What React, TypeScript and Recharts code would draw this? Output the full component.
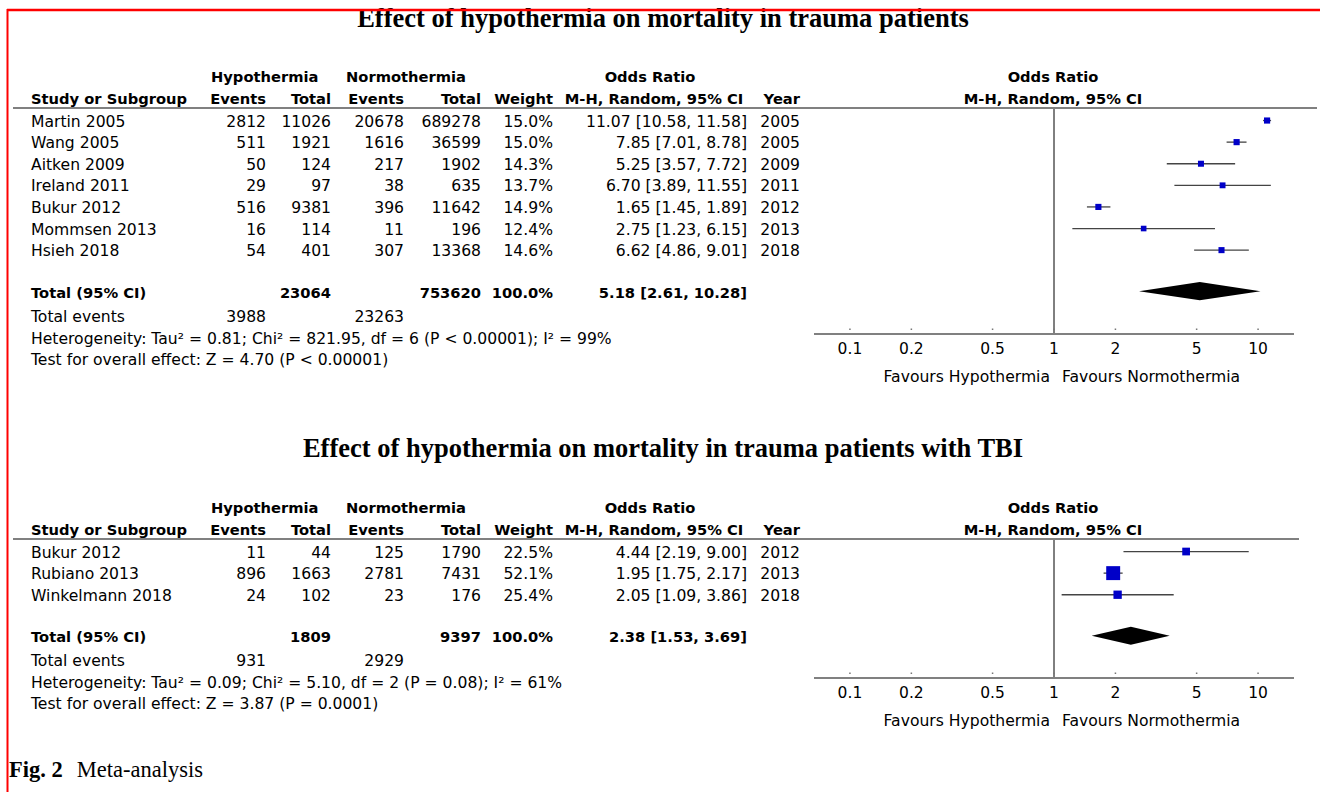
import React from 'react'
import { ComposedChart, XAxis, YAxis, Scatter, ErrorBar, Area, ReferenceLine } from 'recharts'

// ---- top meta-analysis: all trauma patients ----
const studiesAll = ['Martin 2005', 'Wang 2005', 'Aitken 2009', 'Ireland 2011', 'Bukur 2012', 'Mommsen 2013', 'Hsieh 2018']
const hypoEventsAll = [2812, 511, 50, 29, 516, 16, 54]
const hypoTotalAll = [11026, 1921, 124, 97, 9381, 114, 401]
const normoEventsAll = [20678, 1616, 217, 38, 396, 11, 307]
const normoTotalAll = [689278, 36599, 1902, 635, 11642, 196, 13368]
const weightsAll = [15.0, 15.0, 14.3, 13.7, 14.9, 12.4, 14.6]
const oddsAll = [11.07, 7.85, 5.25, 6.7, 1.65, 2.75, 6.62]
const lowerAll = [10.58, 7.01, 3.57, 3.89, 1.45, 1.23, 4.86]
const upperAll = [11.58, 8.78, 7.72, 11.55, 1.89, 6.15, 9.01]
const yearsAll = [2005, 2005, 2009, 2011, 2012, 2013, 2018]
const totalAll = { hypoTotal: 23064, normoTotal: 753620, hypoEvents: 3988, normoEvents: 23263, or: 5.18, lo: 2.61, hi: 10.28 }
const hetAll = 'Heterogeneity: Tau² = 0.81; Chi² = 821.95, df = 6 (P < 0.00001); I² = 99%'
const testAll = 'Test for overall effect: Z = 4.70 (P < 0.00001)'

// ---- bottom meta-analysis: TBI patients ----
const studiesTbi = ['Bukur 2012', 'Rubiano 2013', 'Winkelmann 2018']
const hypoEventsTbi = [11, 896, 24]
const hypoTotalTbi = [44, 1663, 102]
const normoEventsTbi = [125, 2781, 23]
const normoTotalTbi = [1790, 7431, 176]
const weightsTbi = [22.5, 52.1, 25.4]
const oddsTbi = [4.44, 1.95, 2.05]
const lowerTbi = [2.19, 1.75, 1.09]
const upperTbi = [9.0, 2.17, 3.86]
const yearsTbi = [2012, 2013, 2018]
const totalTbi = { hypoTotal: 1809, normoTotal: 9397, hypoEvents: 931, normoEvents: 2929, or: 2.38, lo: 1.53, hi: 3.69 }
const hetTbi = 'Heterogeneity: Tau² = 0.09; Chi² = 5.10, df = 2 (P = 0.08); I² = 61%'
const testTbi = 'Test for overall effect: Z = 3.87 (P = 0.0001)'

const xTicks = [0.1, 0.2, 0.5, 1, 2, 5, 10]

const SANS = "'DejaVu Sans', Verdana, sans-serif"
const SERIF = "'Liberation Serif', 'Times New Roman', serif"
const ROW_PX = 21.6
const ROW_PAD = 0.58
const DIAMOND_HALF = 0.42

type Section = {
  studies: string[]
  hypoEvents: number[]
  hypoTotal: number[]
  normoEvents: number[]
  normoTotal: number[]
  weights: number[]
  odds: number[]
  lower: number[]
  upper: number[]
  years: number[]
  total: typeof totalAll
  het: string
  test: string
}

const sectionAll: Section = {
  studies: studiesAll, hypoEvents: hypoEventsAll, hypoTotal: hypoTotalAll, normoEvents: normoEventsAll,
  normoTotal: normoTotalAll, weights: weightsAll, odds: oddsAll, lower: lowerAll, upper: upperAll,
  years: yearsAll, total: totalAll, het: hetAll, test: testAll,
}
const sectionTbi: Section = {
  studies: studiesTbi, hypoEvents: hypoEventsTbi, hypoTotal: hypoTotalTbi, normoEvents: normoEventsTbi,
  normoTotal: normoTotalTbi, weights: weightsTbi, odds: oddsTbi, lower: lowerTbi, upper: upperTbi,
  years: yearsTbi, total: totalTbi, het: hetTbi, test: testTbi,
}

const ci = (o: number, l: number, h: number) => `${o.toFixed(2)} [${l.toFixed(2)}, ${h.toFixed(2)}]`

const Txt = ({ x, y, anchor = 'start', bold = false, children }: any) => (
  <text x={x} y={y + 1} textAnchor={anchor} dominantBaseline='central' fontFamily={SANS} fontSize={bold ? 14.7 : 15.6}
    fontWeight={bold ? 'bold' : 'normal'} fill='#000'>
    {children}
  </text>
)

const Square = (p: any) => {
  const sz = 3 + 0.21 * p.payload.w
  return <rect x={p.cx - sz / 2} y={p.cy - sz / 2} width={sz} height={sz} fill='#0000c8' />
}

const XTick = (p: any) => (
  <g>
    <rect x={p.x - 0.75} y={p.y - 5.5} width={1.5} height={1.5} fill='#777' />
    <text x={p.x} y={p.y + 14.5} textAnchor='middle' dominantBaseline='central' fontFamily={SANS} fontSize={15.5} fill='#000'>
      {p.payload.value}
    </text>
  </g>
)

const ForestPlot = ({ s, top, height, headerY, axisY }: { s: Section; top: number; height: number; headerY: number; axisY: number }) => {
  const totalRow = s.studies.length + 0.9
  const points = s.studies.map((_, i) => ({
    row: i,
    or: s.odds[i],
    err: [s.odds[i] - s.lower[i], s.upper[i] - s.odds[i]],
    w: s.weights[i],
  }))
  const diamond = [
    { or: s.total.lo, band: [totalRow, totalRow] },
    { or: s.total.or, band: [totalRow - DIAMOND_HALF, totalRow + DIAMOND_HALF] },
    { or: s.total.hi, band: [totalRow, totalRow] },
  ]
  const rowTicks = [...s.studies.map((_, i) => i), totalRow]
  const yMax = (axisY - headerY) / ROW_PX - ROW_PAD

  const RowTick = (p: any) => {
    const v = p.payload.value
    const y = p.y
    if (v === totalRow) {
      return (
        <g>
          <Txt x={31} y={y} bold>Total (95% CI)</Txt>
          <Txt x={331} y={y} anchor='end' bold>{s.total.hypoTotal}</Txt>
          <Txt x={481} y={y} anchor='end' bold>{s.total.normoTotal}</Txt>
          <Txt x={553} y={y} anchor='end' bold>100.0%</Txt>
          <Txt x={747} y={y} anchor='end' bold>{ci(s.total.or, s.total.lo, s.total.hi)}</Txt>
        </g>
      )
    }
    const i = Math.round(v)
    return (
      <g>
        <Txt x={31} y={y}>{s.studies[i]}</Txt>
        <Txt x={266} y={y} anchor='end'>{s.hypoEvents[i]}</Txt>
        <Txt x={331} y={y} anchor='end'>{s.hypoTotal[i]}</Txt>
        <Txt x={404} y={y} anchor='end'>{s.normoEvents[i]}</Txt>
        <Txt x={481} y={y} anchor='end'>{s.normoTotal[i]}</Txt>
        <Txt x={553} y={y} anchor='end'>{s.weights[i].toFixed(1)}%</Txt>
        <Txt x={747} y={y} anchor='end'>{ci(s.odds[i], s.lower[i], s.upper[i])}</Txt>
        <Txt x={800} y={y} anchor='end'>{s.years[i]}</Txt>
      </g>
    )
  }

  return (
    <div style={{ position: 'absolute', left: 0, top, width: 1320, height }}>
      <ComposedChart width={1320} height={height} margin={{ top: headerY - top, right: 26, bottom: 0, left: 0 }}>
        <XAxis
          type='number'
          dataKey='or'
          scale='log'
          domain={[1 / 15, 15]}
          allowDataOverflow
          ticks={xTicks}
          interval={0}
          tickSize={0}
          tickMargin={0}
          height={top + height - axisY}
          axisLine={{ stroke: '#808080', strokeWidth: 2 }}
          tickLine={false}
          tick={<XTick />}
        />
        <YAxis
          type='number'
          dataKey='row'
          domain={[-ROW_PAD, yMax]}
          reversed
          allowDataOverflow
          ticks={rowTicks}
          interval={0}
          width={814}
          axisLine={false}
          tickLine={false}
          tick={<RowTick />}
        />
        <ReferenceLine x={1} stroke='#000' strokeWidth={1} />
        <Area
          data={diamond}
          dataKey='band'
          type='linear'
          fill='#000'
          fillOpacity={1}
          stroke='none'
          dot={false}
          activeDot={false}
          isAnimationActive={false}
        />
        <Scatter data={points} shape={<Square />} isAnimationActive={false}>
          <ErrorBar dataKey='err' direction='x' width={0} stroke='#444' strokeWidth={1.3} />
        </Scatter>
      </ComposedChart>
    </div>
  )
}

const SectionText = ({ s, title, titleY, headerY, axisY, lineEnd }: { s: Section; title: string; titleY: number; headerY: number; axisY: number; lineEnd: number }) => {
  const h1 = headerY - 32.5
  const h2 = headerY - 10.5
  return (
    <g>
      <text x={663} y={titleY} textAnchor='middle' fontFamily={SERIF} fontSize={26.5} fontWeight='bold' fill='#000'>
        {title}
      </text>
      <Txt x={211} y={h1} bold>Hypothermia</Txt>
      <Txt x={346} y={h1} bold>Normothermia</Txt>
      <Txt x={650} y={h1} anchor='middle' bold>Odds Ratio</Txt>
      <Txt x={1053} y={h1} anchor='middle' bold>Odds Ratio</Txt>
      <Txt x={31} y={h2} bold>Study or Subgroup</Txt>
      <Txt x={266} y={h2} anchor='end' bold>Events</Txt>
      <Txt x={331} y={h2} anchor='end' bold>Total</Txt>
      <Txt x={404} y={h2} anchor='end' bold>Events</Txt>
      <Txt x={481} y={h2} anchor='end' bold>Total</Txt>
      <Txt x={553} y={h2} anchor='end' bold>Weight</Txt>
      <Txt x={654} y={h2} anchor='middle' bold>M-H, Random, 95% CI</Txt>
      <Txt x={800} y={h2} anchor='end' bold>Year</Txt>
      <Txt x={1053} y={h2} anchor='middle' bold>M-H, Random, 95% CI</Txt>
      <line x1={13} x2={lineEnd} y1={headerY} y2={headerY} stroke='#808080' strokeWidth={2} />
      <Txt x={31} y={axisY - 18}>Total events</Txt>
      <Txt x={266} y={axisY - 18} anchor='end'>{s.total.hypoEvents}</Txt>
      <Txt x={404} y={axisY - 18} anchor='end'>{s.total.normoEvents}</Txt>
      <Txt x={31} y={axisY + 3.5}>{s.het}</Txt>
      <Txt x={31} y={axisY + 25}>{s.test}</Txt>
      <Txt x={1050} y={axisY + 42} anchor='end'>Favours Hypothermia</Txt>
      <Txt x={1062} y={axisY + 42}>Favours Normothermia</Txt>
    </g>
  )
}

const App = () => {
  return (
    <div style={{ position: 'absolute', left: 0, top: 0, width: 1320, height: 792, background: '#fff', overflow: 'hidden' }}>
      <ForestPlot s={sectionAll} top={0} height={400} headerY={108} axisY={334} />
      <ForestPlot s={sectionTbi} top={400} height={392} headerY={539} axisY={678} />
      <svg width={1320} height={792} style={{ position: 'absolute', left: 0, top: 0, pointerEvents: 'none' }}>
        <SectionText s={sectionAll} title='Effect of hypothermia on mortality in trauma patients' titleY={27} headerY={108} axisY={334} lineEnd={1317} />
        <SectionText s={sectionTbi} title='Effect of hypothermia on mortality in trauma patients with TBI' titleY={457} headerY={539} axisY={678} lineEnd={1299} />
        <text x={9} y={777} fontFamily={SERIF} fontSize={22.5} fill='#000'>
          <tspan fontWeight='bold'>Fig. 2</tspan>
          <tspan dx={14}>Meta-analysis</tspan>
        </text>
        <line x1={7} x2={1320} y1={10} y2={10} stroke='#ff0000' strokeWidth={2.5} />
        <line x1={7.5} x2={7.5} y1={9} y2={792} stroke='#ff0000' strokeWidth={2} />
      </svg>
    </div>
  )
}

export default App
